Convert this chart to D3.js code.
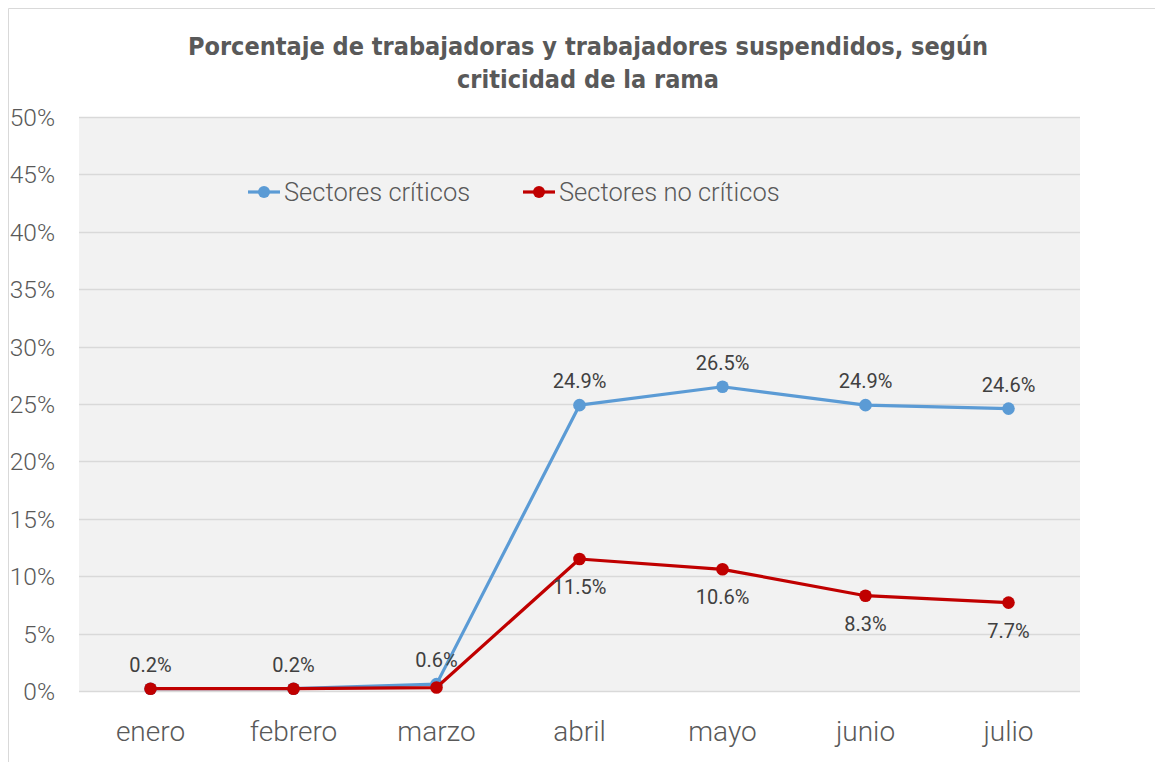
<!DOCTYPE html>
<html><head><meta charset="utf-8">
<script src="https://cdn.jsdelivr.net/npm/d3@7"></script>
<style>body{margin:0;background:#fff;} svg{display:block;}</style>
</head><body>
<svg id="c" width="1155" height="762"></svg>
<script>
const months = ["enero","febrero","marzo","abril","mayo","junio","julio"];
const critical = [0.2,0.2,0.6,24.9,26.5,24.9,24.6];
const nonCritical = [0.2,0.2,0.3,11.5,10.6,8.3,7.7];
const criticalLabels = ["0.2%","0.2%","0.6%","24.9%","26.5%","24.9%","24.6%"];
const nonCriticalLabels = [null,null,null,"11.5%","10.6%","8.3%","7.7%"];
const yTicks = [0,5,10,15,20,25,30,35,40,45,50];
const seriesNames = ["Sectores críticos","Sectores no críticos"];
const colors = ["#5b9bd5","#c00000"];
const titleLines = ["Porcentaje de trabajadoras y trabajadores suspendidos, según","criticidad de la rama"];

const svg = d3.select("#c");
const m = {left:79, right:1080, top:117, bottom:691};
const x = d3.scaleBand().domain(months).range([m.left,m.right]);
const y = d3.scaleLinear().domain([0,50]).range([m.bottom,m.top]);
const font = "Roboto, 'DejaVu Sans', sans-serif";

// outer border
svg.append("path").attr("d","M8.5,762 V8.5 H1155").attr("fill","none").attr("stroke","#d9d9d9").attr("stroke-width",1);

// plot bg
svg.append("rect").attr("x",m.left).attr("y",m.top).attr("width",m.right-m.left).attr("height",m.bottom-m.top).attr("fill","#f2f2f2");

// grid
svg.append("g").selectAll("line").data(yTicks).join("line")
  .attr("x1",m.left).attr("x2",m.right)
  .attr("y1",d=>Math.round(y(d))+0.5).attr("y2",d=>Math.round(y(d))+0.5)
  .attr("stroke","#d9d9d9").attr("stroke-width",1.3);

// y axis
const yAxis = d3.axisLeft(y).tickValues(yTicks).tickFormat(d=>d+"%").tickSize(0).tickPadding(0);
const ya = svg.append("g").attr("transform",`translate(55,0)`).call(yAxis);
ya.select(".domain").remove();
ya.selectAll("text").attr("font-family",font).attr("font-weight",300).attr("font-size",24.5).attr("fill","#595959").attr("dy","0.35em");

// x axis
const xAxis = d3.axisBottom(x).tickSize(0).tickPadding(0);
const xa = svg.append("g").attr("transform",`translate(0,731)`).call(xAxis);
xa.select(".domain").remove();
xa.selectAll("text").attr("font-family",font).attr("font-weight",300).attr("font-size",28).attr("fill","#595959").attr("dy","0.35em");

// title
svg.append("g").selectAll("text").data(titleLines).join("text")
  .attr("x",588).attr("y",(d,i)=>47+i*33).attr("dy","0.35em")
  .attr("text-anchor","middle").attr("font-family","'DejaVu Sans Condensed','DejaVu Sans',sans-serif")
  .attr("font-weight","bold").attr("font-size",24).attr("fill","#595959")
  .attr("textLength",(d,i)=>i===0?800:262).attr("lengthAdjust","spacingAndGlyphs")
  .text(d=>d);

const cx = d=>x(d)+x.bandwidth()/2;
const line = d3.line().x((d,i)=>cx(months[i])).y(d=>y(d));
const series = [critical, nonCritical];
series.forEach((s,k)=>{
  svg.append("path").datum(s).attr("d",line).attr("fill","none").attr("stroke",colors[k]).attr("stroke-width",3.2).attr("stroke-linejoin","round");
  svg.append("g").selectAll("circle").data(s).join("circle")
    .attr("cx",(d,i)=>cx(months[i])).attr("cy",d=>y(d)).attr("r",6.3).attr("fill",colors[k]);
});

// labels
svg.append("g").selectAll("text").data(critical).join("text")
  .attr("x",(d,i)=>cx(months[i])).attr("y",d=>y(d)-24).attr("dy","0.35em")
  .attr("text-anchor","middle").attr("font-family",font).attr("font-size",20).attr("fill","#404040")
  .text((d,i)=>criticalLabels[i]);
svg.append("g").selectAll("text").data(nonCritical).join("text")
  .attr("x",(d,i)=>cx(months[i])).attr("y",d=>y(d)+28).attr("dy","0.35em")
  .attr("text-anchor","middle").attr("font-family",font).attr("font-size",20).attr("fill","#404040")
  .text((d,i)=>nonCriticalLabels[i]||"");

// legend
const legX = [248,523];
const lg = svg.append("g").selectAll("g").data(seriesNames).join("g")
  .attr("transform",(d,i)=>`translate(${legX[i]},192)`);
lg.append("line").attr("x1",0).attr("x2",32).attr("stroke",(d,i)=>colors[i]).attr("stroke-width",3.2);
lg.append("circle").attr("cx",16).attr("r",6).attr("fill",(d,i)=>colors[i]);
lg.append("text").attr("x",36).attr("dy","0.35em").attr("font-family",font).attr("font-weight",300).attr("font-size",25.5).attr("fill","#595959").text(d=>d);
</script>
</body></html>
